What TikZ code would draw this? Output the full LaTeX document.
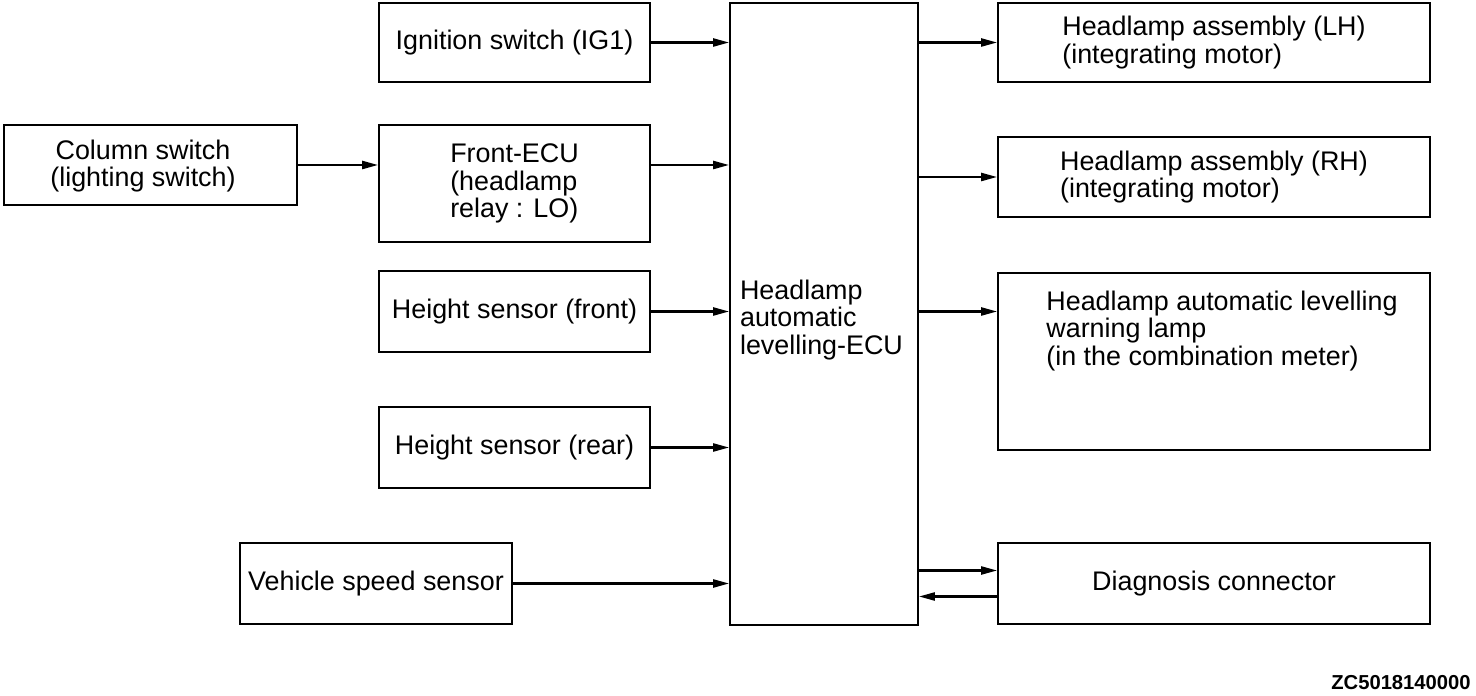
\documentclass[tikz,border=0pt]{standalone}
\usepackage{fontspec}
\setmainfont{Liberation Sans}
\usetikzlibrary{arrows.meta}
\tikzset{
    blk/.style={
        rectangle, draw=black, line width=1pt,
        inner sep=0pt, align=left,
        font=\fontsize{15.3}{15.6}\selectfont
    },
    arrow/.style={-{Triangle[length=3.2mm, width=1.6mm]}, line width=1.3pt},
    txt/.style={inner sep=0pt, align=left, font=\fontsize{15.3}{15.6}\selectfont}
}
\begin{document}
\begin{tikzpicture}
    \useasboundingbox (0,0) rectangle (29.52,-13.92);

    % inputs
    \node[blk, minimum width=5.42cm, minimum height=1.58cm] (ign) at (10.29,-0.85) {Ignition switch (IG1)};
    \node[blk, minimum width=5.86cm, minimum height=1.60cm] (col) at (3.01,-3.30) {};
    \node[txt, align=center] (coltxt) at (2.86,-3.32) {Column switch\\(lighting switch)};
    \node[blk, minimum width=5.42cm, minimum height=2.34cm] (front) at (10.29,-3.67) {Front-ECU\\(headlamp\\relay : LO)};
    \node[blk, minimum width=5.42cm, minimum height=1.62cm] (hsf) at (10.29,-6.23) {Height sensor (front)};
    \node[blk, minimum width=5.42cm, minimum height=1.62cm] (hsr) at (10.29,-8.95) {Height sensor (rear)};
    \node[blk, minimum width=5.44cm, minimum height=1.62cm] (vss) at (7.52,-11.67) {Vehicle speed sensor};

    % ECU
    \node[blk, minimum width=3.76cm, minimum height=12.44cm] (ecu) at (16.48,-6.28) {};
    \node[txt] (ecutxt) at (16.43,-6.40) {Headlamp\\automatic\\levelling-ECU};

    % outputs
    \node[blk, minimum width=8.64cm, minimum height=1.58cm] (lh) at (24.28,-0.85) {Headlamp assembly (LH)\\(integrating motor)};
    \node[blk, minimum width=8.64cm, minimum height=1.60cm] (rh) at (24.28,-3.54) {Headlamp assembly (RH)\\(integrating motor)};
    \node[blk, minimum width=8.64cm, minimum height=3.54cm] (warn) at (24.28,-7.23) {};
    \node[txt] (warntxt) at (24.44,-6.62) {Headlamp automatic levelling\\warning lamp\\(in the combination meter)};
    \node[blk, minimum width=8.64cm, minimum height=1.62cm] (diag) at (24.28,-11.67) {Diagnosis connector};

    \node[inner sep=0pt, font=\fontsize{11.5}{12}\selectfont\bfseries] (code) at (28.02,-13.66) {ZC5018140000};

    % connectors
    \draw[arrow] (col.east) -- (col.east -| front.west);
    \draw[arrow] (ign.east) -- (ign.east -| ecu.west);
    \draw[arrow] (front.east |- col) -- (ecu.west |- col);
    \draw[arrow] (hsf.east) -- (hsf.east -| ecu.west);
    \draw[arrow] (hsr.east) -- (hsr.east -| ecu.west);
    \draw[arrow] (vss.east) -- (vss.east -| ecu.west);

    \draw[arrow] (ecu.east |- lh) -- (lh.west);
    \draw[arrow] (ecu.east |- rh) -- (rh.west);
    \draw[arrow] (ecu.east |- hsf) -- (warn.west |- hsf);

    \coordinate (dout) at ([yshift=2.6mm]diag.west);
    \coordinate (din) at ([yshift=-2.6mm]diag.west);
    \draw[arrow] (ecu.east |- dout) -- (dout);
    \draw[arrow] (din) -- (ecu.east |- din);
\end{tikzpicture}
\end{document}
